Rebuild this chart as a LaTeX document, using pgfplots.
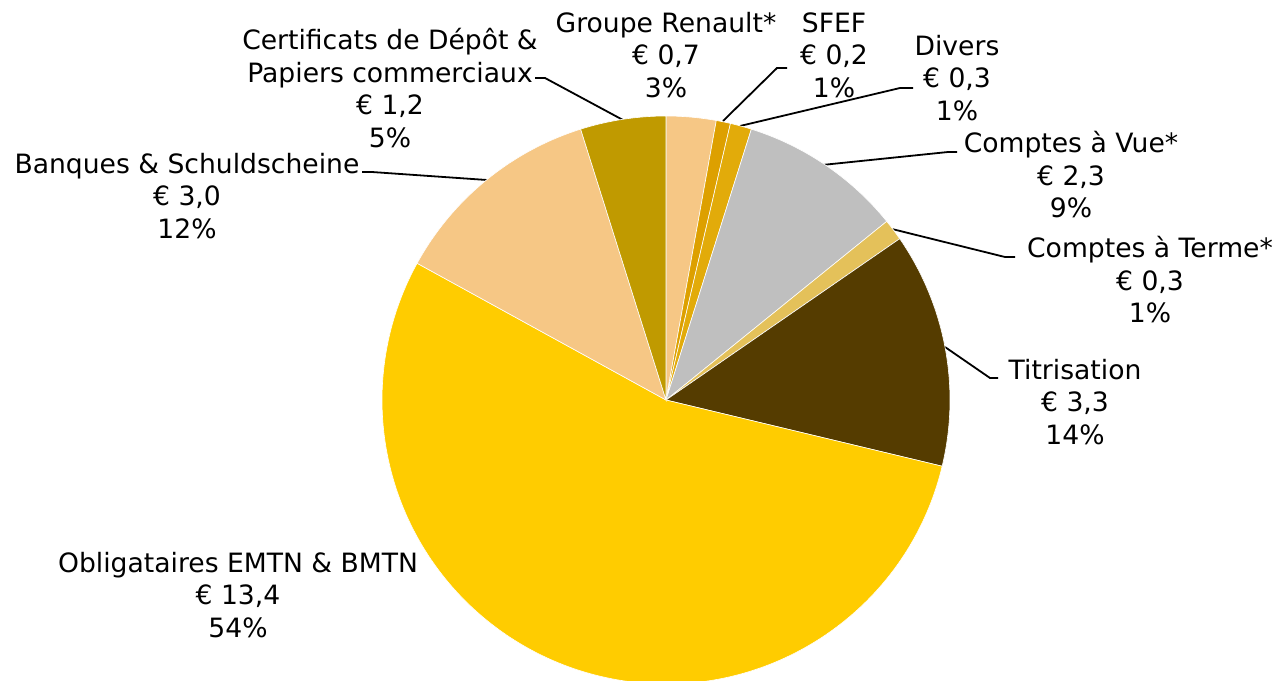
\documentclass[border=0pt]{standalone}
\usepackage{pgfplots}
\pgfplotsset{compat=1.18}
\usepackage{pgfplotstable}
\usepackage{fontspec}
\setmainfont{DejaVu Sans}
\definecolor{sl0}{HTML}{F6C785}
\definecolor{sl1}{HTML}{DDA000}
\definecolor{sl2}{HTML}{E2AB0A}
\definecolor{sl3}{HTML}{BFBFBF}
\definecolor{sl4}{HTML}{E4C15A}
\definecolor{sl5}{HTML}{553C00}
\definecolor{sl6}{HTML}{FFCC00}
\definecolor{sl7}{HTML}{F6C785}
\definecolor{sl8}{HTML}{C09A00}
% s = cumulative start (bn EUR), v = value (bn EUR), ci = colour index
\pgfplotstableread{
cx cy s v ci
666 400 0.0 0.7 0
666 400 0.7 0.2 1
666 400 0.9 0.3 2
666 400 1.2 2.3 3
666 400 3.5 0.3 4
666 400 3.8 3.3 5
666 400 7.1 13.4 6
666 400 20.5 3.0 7
666 400 23.5 1.2 8
}\slices
\pgfdeclareplotmark{emptymark}{}
\begin{document}
\begin{tikzpicture}
\begin{axis}[at={(0,0)}, anchor=south west, scale only axis,
  width=641pt, height=340.5pt,
  xmin=0, xmax=1282, ymin=0, ymax=681, y dir=reverse,
  hide axis, clip=false]
\addplot[scatter, only marks, mark=emptymark,
  visualization depends on={90-360*\thisrow{s}/24.7 \as \astart},
  visualization depends on={90-360*(\thisrow{s}+\thisrow{v})/24.7 \as \aend},
  visualization depends on={\thisrow{ci} \as \ci},
  scatter/@pre marker code/.code={%
    \pgfmathtruncatemacro\cidx{\ci}%
    \fill[sl\cidx, draw=white, line width=0.3pt] (0,0) -- (\astart:142pt)
      arc[start angle=\astart, end angle=\aend, radius=142pt] -- cycle;},
  scatter/@post marker code/.code={}]
  table[x=cx, y=cy] {\slices};

\tikzset{lbl/.style={align=center, font=\fontsize{13.3}{16.25}\selectfont, inner sep=0pt},
  ld/.style={black, line width=0.9pt}}
\draw[ld] (535,78) -- (545,78) -- (623,120);
\draw[ld] (787,68) -- (777,68) -- (723,121);
\draw[ld] (913,88) -- (900,88) -- (740,126);
\draw[ld] (957,152) -- (948,152) -- (822,165);
\draw[ld] (1015,257) -- (1005,257) -- (892,229);
\draw[ld] (998,378) -- (990,378) -- (945,347);
\draw[ld] (362,172) -- (372,172) -- (487,180);

\node[lbl] at (666,55) {Groupe Renault*\\€ 0,7\\3\%};
\node[lbl] at (834,55) {SFEF\\€ 0,2\\1\%};
\node[lbl] at (957,78) {Divers\\€ 0,3\\1\%};
\node[lbl] at (1071,175) {Comptes à Vue*\\€ 2,3\\9\%};
\node[lbl] at (1150,280) {Comptes à Terme*\\€ 0,3\\1\%};
\node[lbl] at (1075,402) {Titrisation\\€ 3,3\\14\%};
\node[lbl] at (238,595) {Obligataires EMTN \& BMTN\\€ 13,4\\54\%};
\node[lbl] at (187,196) {Banques \& Schuldscheine\\€ 3,0\\12\%};
\node[lbl] at (390,88) {Certificats de Dépôt \&\\Papiers commerciaux\\€ 1,2\\5\%};
\end{axis}
\pgfresetboundingbox
\useasboundingbox (0,0) rectangle (641pt,340.5pt);
\end{tikzpicture}
\end{document}
